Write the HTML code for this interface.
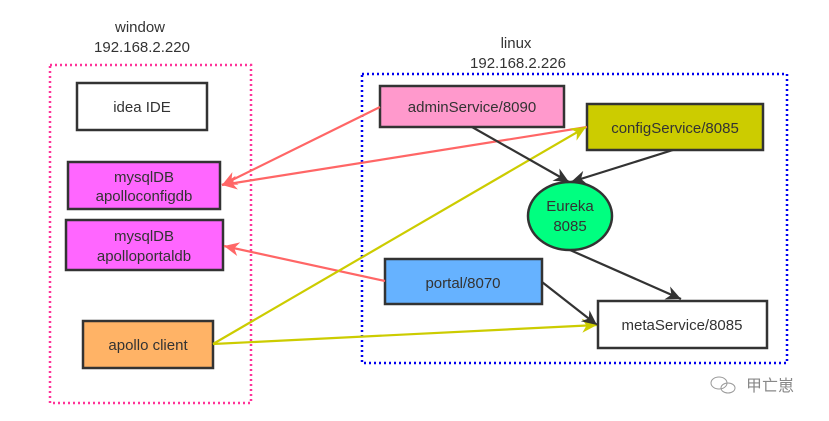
<!DOCTYPE html>
<html><head><meta charset="utf-8"><style>
body{margin:0;background:#fff;}
svg{display:block;font-family:"Liberation Sans","Noto Sans CJK SC",sans-serif;}
</style></head><body>
<svg id="s" width="829" height="421" viewBox="0 0 829 421" xmlns="http://www.w3.org/2000/svg">
<style>
text{fill:#333;font-size:15px;text-anchor:middle;}
</style>
<text x="140" y="32">window</text>
<text x="142" y="52">192.168.2.220</text>
<text x="516" y="48">linux</text>
<text x="518" y="68">192.168.2.226</text>
<rect x="50" y="65" width="201" height="338" fill="none" stroke="#ff3399" stroke-width="2.5" stroke-dasharray="2,3"/>
<rect x="362" y="74" width="425" height="289" fill="none" stroke="#0000ee" stroke-width="2.5" stroke-dasharray="2,3"/>
<g stroke="#333" stroke-width="2.5">
<rect x="77" y="83" width="130" height="47" fill="#fff"/>
<rect x="68" y="162" width="152" height="47" fill="#ff66ff"/>
<rect x="66" y="220" width="157" height="50" fill="#ff66ff"/>
<rect x="83" y="321" width="130" height="47" fill="#ffb366"/>
<rect x="380" y="86" width="184" height="41" fill="#ff99cc"/>
<rect x="587" y="104" width="176" height="46" fill="#cccc00"/>
<ellipse cx="570" cy="216" rx="42" ry="34" fill="#00ff80"/>
<rect x="385" y="259" width="157" height="45" fill="#66b2ff"/>
<rect x="598" y="301" width="169" height="47" fill="#fff"/>
</g>
<g id="lines" fill="none" stroke-width="2.2">
<line x1="380" y1="107" x2="222" y2="185" stroke="#ff6666"/>
<line x1="587" y1="127" x2="222" y2="185" stroke="#ff6666"/>
<line x1="385" y1="281" x2="224" y2="246" stroke="#ff6666"/>
<line x1="213" y1="344" x2="586" y2="127" stroke="#cccc00"/>
<line x1="213" y1="344" x2="597" y2="325" stroke="#cccc00"/>
<line x1="472" y1="127" x2="569" y2="182" stroke="#333"/>
<line x1="673" y1="150" x2="571" y2="182" stroke="#333"/>
<line x1="570" y1="250" x2="681" y2="299" stroke="#333"/>
<line x1="542" y1="282" x2="597" y2="325" stroke="#333"/>
</g>
<g id="heads"></g>
<text x="142" y="112">idea IDE</text>
<text x="144" y="182">mysqlDB</text>
<text x="144" y="201">apolloconfigdb</text>
<text x="144" y="241">mysqlDB</text>
<text x="144" y="261">apolloportaldb</text>
<text x="148" y="350">apollo client</text>
<text x="472" y="112">adminService/8090</text>
<text x="675" y="133">configService/8085</text>
<text x="570" y="211">Eureka</text>
<text x="570" y="231">8085</text>
<text x="463" y="288">portal/8070</text>
<text x="682" y="330">metaService/8085</text>
<g fill="none" stroke="#999" stroke-width="1"><ellipse cx="719" cy="383" rx="8" ry="6"/><ellipse cx="728" cy="388" rx="7" ry="5"/></g>
<text x="770" y="391" style="fill:#888;font-size:16px">甲亡崽</text>
</svg>
<script>
(function(){
var ns="http://www.w3.org/2000/svg",h=document.getElementById("heads");
var ls=document.querySelectorAll("#lines line");
for(var i=0;i<ls.length;i++){
var l=ls[i],x1=+l.getAttribute("x1"),y1=+l.getAttribute("y1"),x2=+l.getAttribute("x2"),y2=+l.getAttribute("y2");
var dx=x2-x1,dy=y2-y1,d=Math.sqrt(dx*dx+dy*dy),ux=dx/d,uy=dy/d,px=-uy,py=ux;
var L=15,W=7,bx=x2-ux*L,by=y2-uy*L,nx=x2-ux*L*0.7,ny=y2-uy*L*0.7;
var p=document.createElementNS(ns,"polygon");
p.setAttribute("points",x2+","+y2+" "+(bx+px*W)+","+(by+py*W)+" "+nx+","+ny+" "+(bx-px*W)+","+(by-py*W));
p.setAttribute("fill",l.getAttribute("stroke"));
h.appendChild(p);
}})();
</script>
</body></html>
